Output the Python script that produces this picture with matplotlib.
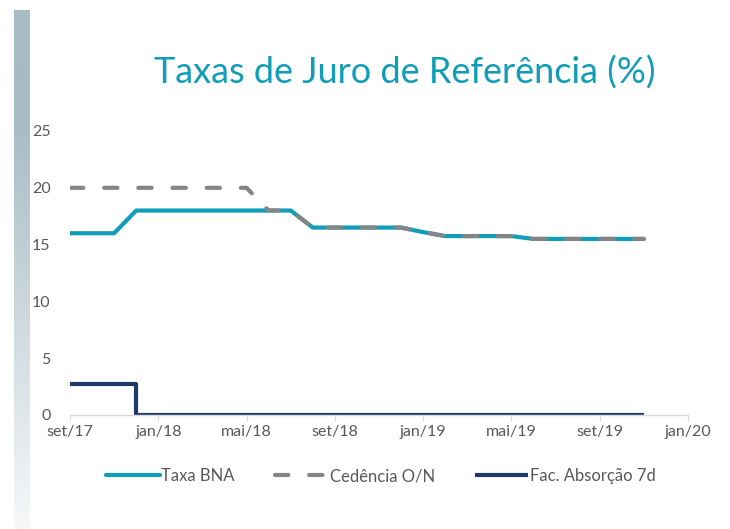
import numpy as np
import matplotlib
matplotlib.use("Agg")
import matplotlib.pyplot as plt

plt.rcParams['font.family'] = ['Lato', 'DejaVu Sans']

# monthly data, set/17 .. nov/19
months = ['set/17', 'out/17', 'nov/17', 'dez/17', 'jan/18', 'fev/18', 'mar/18', 'abr/18',
          'mai/18', 'jun/18', 'jul/18', 'ago/18', 'set/18', 'out/18', 'nov/18', 'dez/18',
          'jan/19', 'fev/19', 'mar/19', 'abr/19', 'mai/19', 'jun/19', 'jul/19', 'ago/19',
          'set/19', 'out/19', 'nov/19']
taxa_bna = [16, 16, 16, 18, 18, 18, 18, 18, 18, 18, 18, 16.5, 16.5, 16.5, 16.5, 16.5,
            16.1, 15.75, 15.75, 15.75, 15.75, 15.5, 15.5, 15.5, 15.5, 15.5, 15.5]
cedencia_on = [20, 20, 20, 20, 20, 20, 20, 20, 20, 18, 18, 16.5, 16.5, 16.5, 16.5, 16.5,
               16.1, 15.75, 15.75, 15.75, 15.75, 15.5, 15.5, 15.5, 15.5, 15.5, 15.5]
fac_absorcao = [2.75, 2.75, 2.75] + [0] * 24

tick_labels = ['set/17', 'jan/18', 'mai/18', 'set/18', 'jan/19', 'mai/19', 'set/19', 'jan/20']

teal = '#109db8'
grey = '#858585'
navy = '#1f3a68'
txt = '#595959'

fig = plt.figure(figsize=(7.3, 5.29), dpi=100)

# gradient side bar
bar = fig.add_axes([14 / 730, 0, 16 / 730, 519 / 529])
top = np.array([166, 187, 196]) / 255
bot = np.array([246, 248, 249]) / 255
t = np.linspace(0, 1, 256)
w = np.clip((t - 0.2) / 0.8, 0, 1)[:, None]
grad = top * (1 - w) + bot * w
bar.imshow(grad[:, None, :], aspect='auto', extent=[0, 1, 0, 1], origin='upper')
bar.axis('off')

ax = fig.add_axes([70 / 730, 114 / 529, 618 / 730, 284 / 529])
x = np.arange(len(months))
ax.plot(x, taxa_bna, color=teal, lw=3, label='Taxa BNA', solid_capstyle='round')
ax.plot(x, cedencia_on, color=grey, lw=3, label='Cedência O/N',
        linestyle=(0, (3.2, 5.0)), dash_capstyle='round')
ax.plot(x, fac_absorcao, color=navy, lw=3, label='Fac. Absorção 7d',
        drawstyle='steps-post', solid_capstyle='butt')

ax.set_xlim(0, 28)
ax.set_ylim(0, 25)
ax.set_xticks(np.arange(0, 29, 4))
ax.set_xticklabels(tick_labels)
ax.set_yticks([0, 5, 10, 15, 20, 25])
for s in ['top', 'right', 'left']:
    ax.spines[s].set_visible(False)
ax.spines['bottom'].set_color('#d9d9d9')
ax.spines['bottom'].set_linewidth(1)
ax.tick_params(axis='x', colors='#d9d9d9', labelcolor=txt, labelsize=11.5, length=4, pad=3)
ax.tick_params(axis='y', length=0, labelcolor=txt, labelsize=11.5, pad=14)

fig.text(405 / 730, 1 - 73 / 529, 'Taxas de Juro de Referência (%)', color=teal,
         fontsize=26, ha='center', va='center')

fig.legend(loc='center', bbox_to_anchor=(381 / 730, 1 - 476 / 529), ncol=3, frameon=False,
           fontsize=12, handlelength=3.2, handletextpad=0.1, columnspacing=2.4,
           labelcolor=txt)

fig.savefig('out.png', dpi=100)
